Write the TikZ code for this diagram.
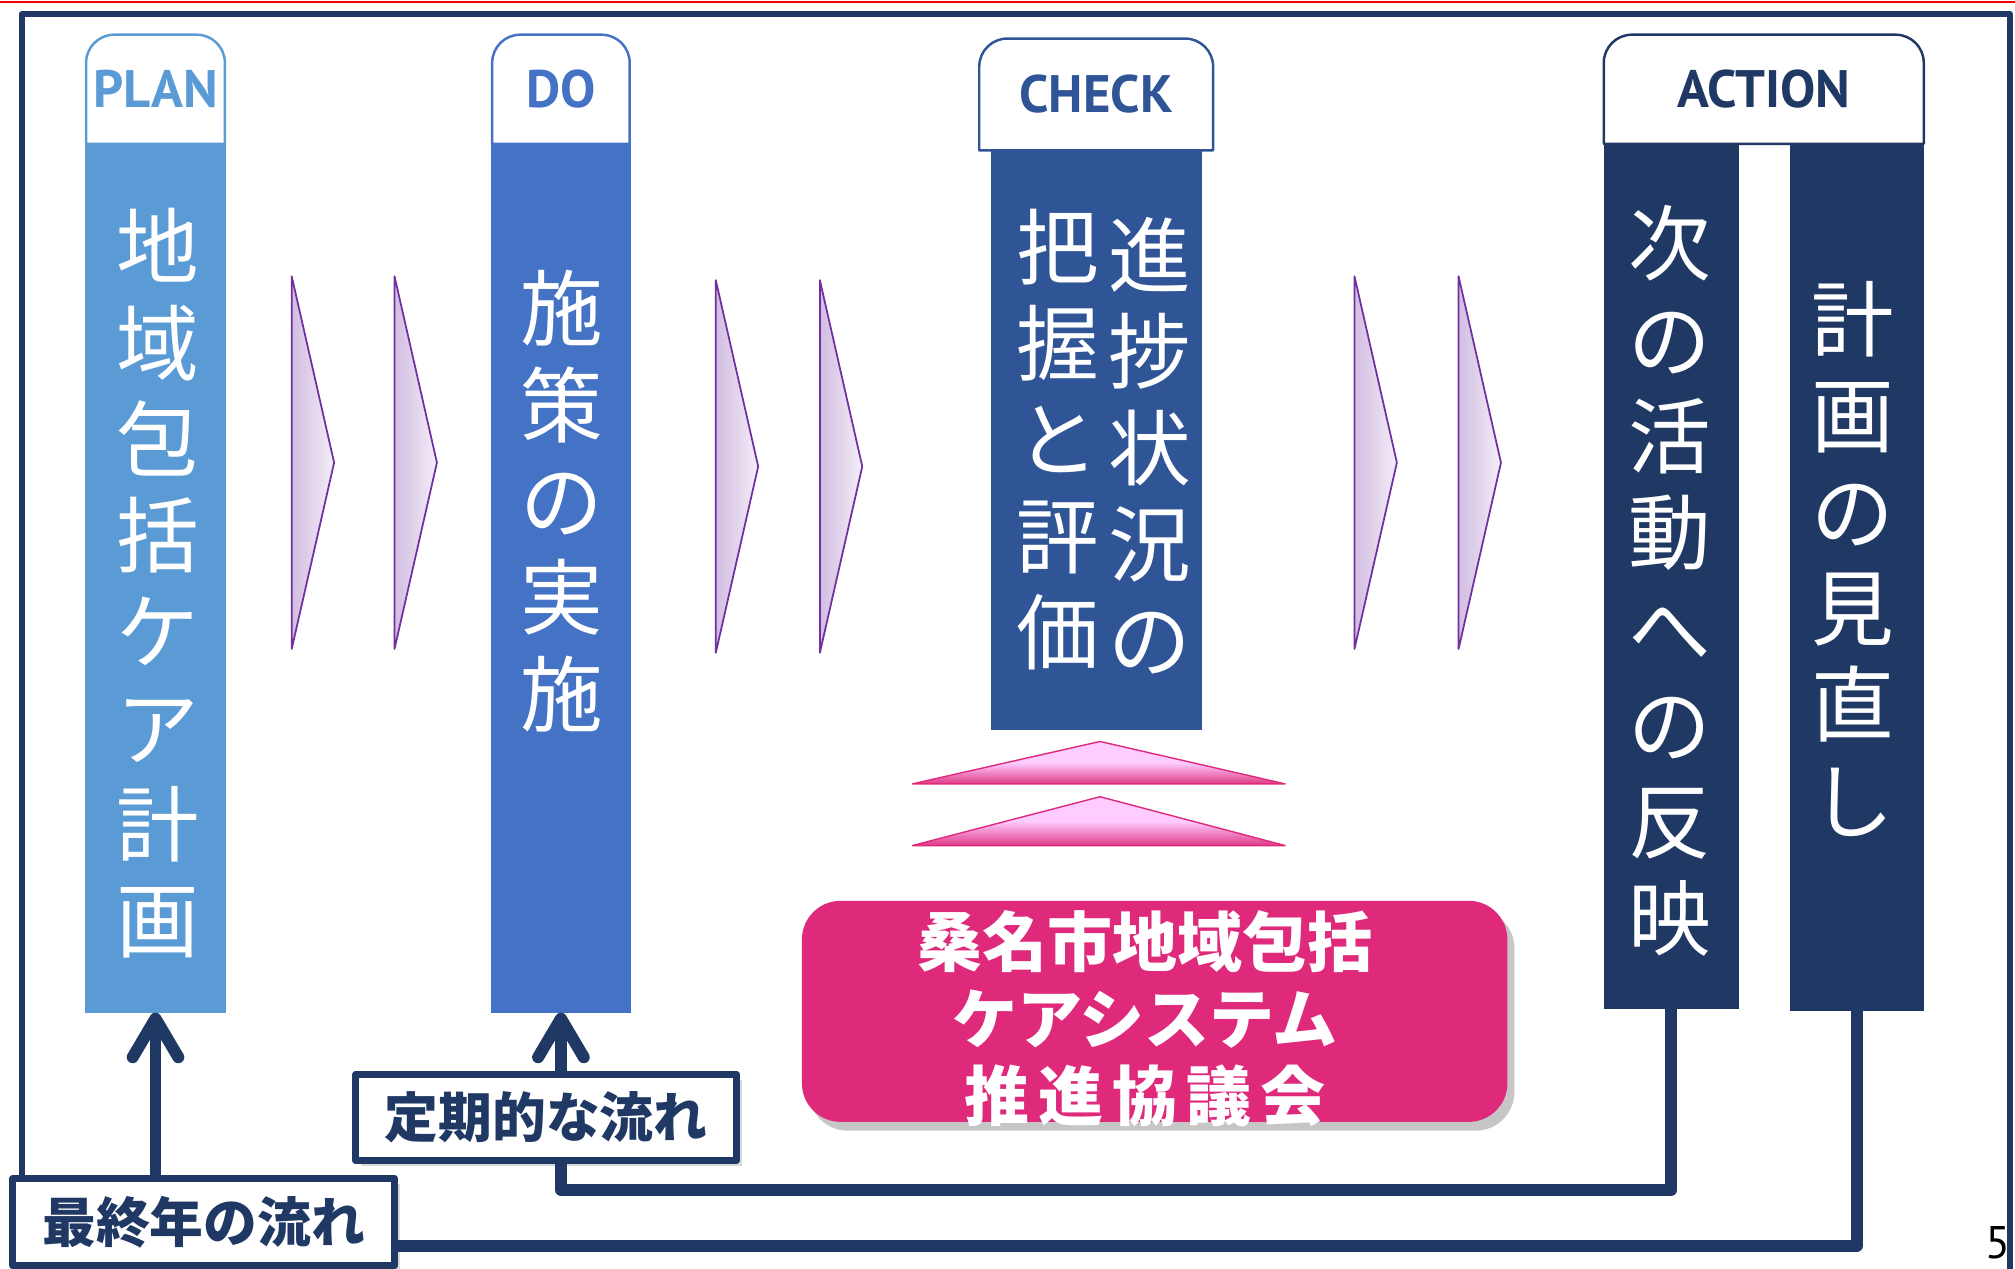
\documentclass[tikz,border=0pt]{standalone}
\usepackage{fontspec}
\setmainfont{PT Sans}
\newfontfamily\jp{Noto Sans CJK JP}
\usetikzlibrary{positioning,shapes,arrows.meta,calc,shadows}
\def\pu{0.01285cm}
\definecolor{plancol}{HTML}{5B9BD5}
\definecolor{docol}{HTML}{4472C4}
\definecolor{checkcol}{HTML}{2F5597}
\definecolor{actcol}{HTML}{203864}
\definecolor{kyogicol}{HTML}{DF2A7B}
\definecolor{chevcol}{HTML}{7030A0}
\definecolor{pinklight}{HTML}{FFCCFF}
\definecolor{pinkdark}{HTML}{DE3B85}
\tikzstyle{column}=[rectangle,inner sep=0pt,outer sep=0pt]
\tikzstyle{tab}=[rectangle,inner sep=0pt,outer sep=0pt,fill=white,font=\bfseries\fontsize{15}{18}\selectfont]
\tikzstyle{vtext}=[align=center,inner sep=0pt,text=white,font=\jp\fontsize{23.5}{27.4}\selectfont]
\tikzstyle{chevron}=[left color=chevcol!32,right color=chevcol!8,draw=chevcol,line width=0.5pt]
\tikzstyle{uptri}=[top color=pinklight,bottom color=pinkdark,middle color=pinklight,draw=kyogicol,line width=0.4pt]
\tikzstyle{kyogibox}=[fill=kyogicol,rounded corners=11pt,inner sep=0pt,drop shadow={shadow xshift=2pt,shadow yshift=-2.5pt,opacity=.45}]
\tikzstyle{kyogitext}=[align=center,inner sep=0pt,text=white,font=\jp\bfseries\fontsize{18.5}{21.9}\selectfont]
\tikzstyle{flowbox}=[draw=actcol,line width=2pt,fill=white,inner sep=0pt,text=actcol,font=\jp\bfseries\fontsize{15.3}{18}\selectfont,drop shadow={shadow xshift=1.5pt,shadow yshift=-1.5pt,opacity=.3}]
\tikzstyle{flow}=[draw=actcol,line width=3.4pt]
\newcommand{\newColumn}[4]{\node[column,fill=#2,#4](#1) at (#3) {};}
\newcommand{\newTab}[4]{\node[tab,text=#2,#4](#1){#3};
  \draw[#2,line width=0.7pt] (#1.south west) [rounded corners=8pt] -- (#1.north west) -- (#1.north east) [sharp corners] -- (#1.south east) -- cycle;}

\begin{document}
\begin{tikzpicture}[x=\pu,y=-\pu,node distance=0pt,
  >={Straight Barb[length=11pt,width=13pt,round]},
  line join=round
  ]
  \useasboundingbox (0,0) rectangle (1568,987);
  \draw[red,line width=0.8pt] (0,1.5) -- (1568,1.5);
  \draw[actcol,line width=1.6pt] (17,1000) -- (17,11) -- (1564,11) -- (1564,1000);
  % PDCA
  \newColumn{plan}{plancol}{121,450}{minimum width=110*\pu,minimum height=676*\pu}
  \newColumn{do}{docol}{436.5,450}{minimum width=109*\pu,minimum height=676*\pu}
  \newColumn{check}{checkcol}{853,342.5}{minimum width=164*\pu,minimum height=451*\pu}
  \newColumn{actA}{actcol}{1300.5,448.5}{minimum width=105*\pu,minimum height=673*\pu}
  \newColumn{actB}{actcol}{1445,449.5}{minimum width=104*\pu,minimum height=675*\pu}
  \newTab{plantab}{plancol}{PLAN}{above=of plan,minimum width=108*\pu,minimum height=85*\pu}
  \newTab{dotab}{docol}{DO}{above=of do,minimum width=107*\pu,minimum height=85*\pu}
  \newTab{checktab}{checkcol}{CHECK}{above=of check,minimum width=182*\pu,minimum height=87*\pu}
  \newTab{acttab}{actcol}{ACTION}{anchor=south,at={(1372.5,112)},minimum width=249*\pu,minimum height=85*\pu}
  \node[vtext] (plantext) at (123,454) {地\\域\\包\\括\\ケ\\ア\\計\\画};
  \node[vtext] (dotext) at (437,390) {施\\策\\の\\実\\施};
  \node[vtext] (checktextR) at (895,347) {進\\捗\\状\\況\\の};
  \node[vtext] (checktextL) at (823,342) {把\\握\\と\\評\\価};
  \node[vtext] (acttextA) at (1299,452) {次\\の\\活\\動\\へ\\の\\反\\映};
  \node[vtext] (acttextB) at (1442,435) {計\\画\\の\\見\\直\\し};
  \foreach \x/\y in {227/215,307/215,557/218,638/218,1054/215,1135/215}
    \shadedraw[chevron] (\x,\y) -- (\x+33,\y+145) -- (\x,\y+290) -- cycle;
  % council
  \foreach \t/\b in {577/610,620/658}
    \shadedraw[uptri] (710,\b) -- (856,\t) -- (1000,\b) -- cycle;
  \node[kyogibox,minimum width=549*\pu,minimum height=172*\pu] (kyogi) at (898.5,787) {};
  \node[kyogitext] (kyogilabel) at (891,793) {桑名市地域包括\\ケアシステム\\推\kern2.5pt 進\kern2.5pt 協\kern2.5pt 議\kern2.5pt 会};
  % flows
  \node[flowbox,minimum width=296*\pu,minimum height=67*\pu] (regbox) at (425,869.5) {定期的な流れ};
  \node[flowbox,minimum width=297*\pu,minimum height=68*\pu] (lastbox) at (158.5,951) {最終年の流れ};
  \draw[flow,->] (lastbox.north -| plan.south) -- (plan.south);
  \draw[flow,->] (regbox.north -| do.south) -- (do.south);
  \draw[flow] (actA.south) -- ++(0,141) -| (regbox.south -| do.south);
  \draw[flow] (actB.south) |- ($(lastbox.south east)!.25!(lastbox.north east)$);
  \node[font=\fontsize{13}{15}\selectfont] (pageno) at (1555,967) {5};
\end{tikzpicture}
\end{document}
